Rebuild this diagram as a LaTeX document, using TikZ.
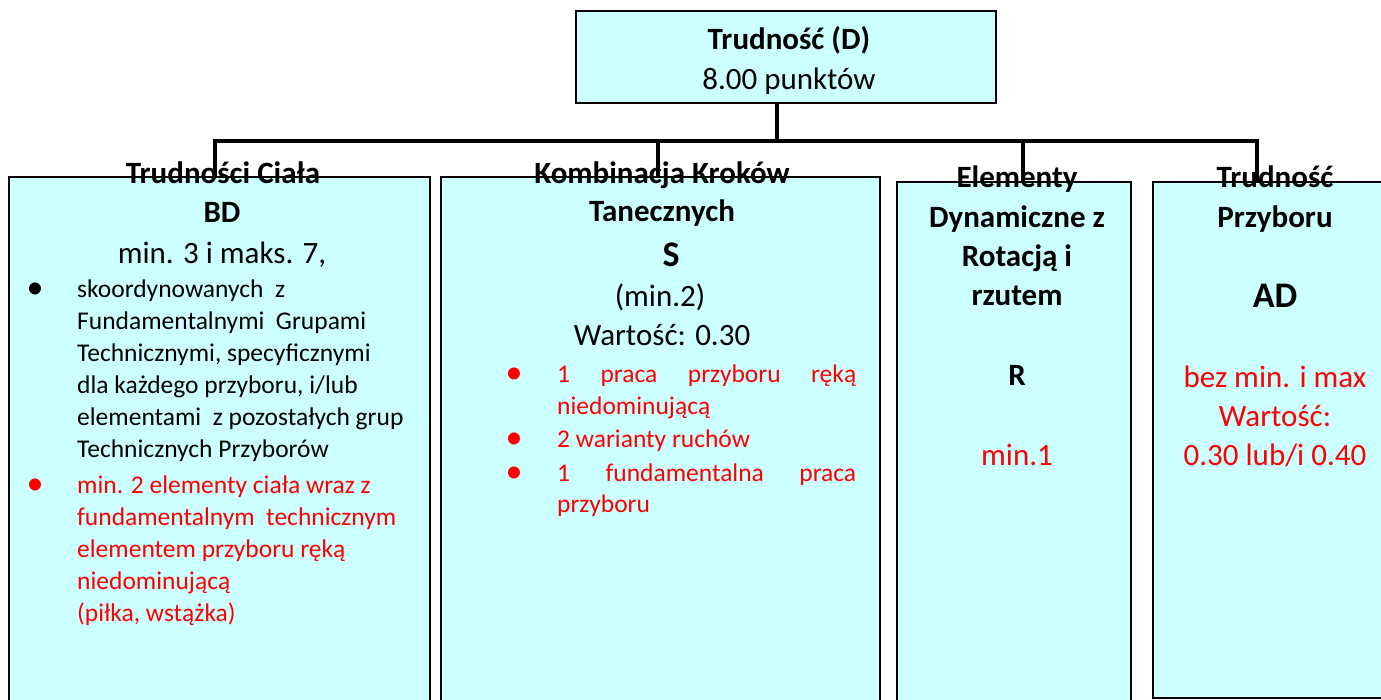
\documentclass[tikz,border=0pt]{standalone}
\usepackage{fontspec}
\setmainfont{Carlito}
\definecolor{boxfill}{HTML}{CCFFFF}
\definecolor{redtext}{HTML}{FF0000}
\begin{document}
\begin{tikzpicture}[x=1pt,y=-1pt,
  box/.style={draw=black, line width=2pt, fill=boxfill, inner sep=0pt, anchor=north west},
  conn/.style={draw=black, line width=4.5pt},
  ttl/.style={anchor=base, inner sep=0pt, font=\fontsize{31}{38}\selectfont\bfseries},
  bigttl/.style={anchor=base, inner sep=0pt, font=\fontsize{36}{40}\selectfont\bfseries},
  big/.style={anchor=base, inner sep=0pt, font=\fontsize{31}{38}\selectfont},
  body/.style={anchor=base west, inner sep=0pt, font=\fontsize{25.5}{32}\selectfont},
  bul/.style={anchor=base, inner sep=0pt, font=\fontsize{34}{32}\selectfont},
  rd/.style={text=redtext}]
\useasboundingbox (0,0) rectangle (1381,699);
% boxes
\node[box, minimum width=420pt, minimum height=92pt] (top) at (575,10) {};
\node[box, minimum width=421pt, minimum height=540pt] (b1) at (8,176) {};
\node[box, minimum width=439pt, minimum height=540pt] (b2) at (440,176) {};
\node[box, minimum width=234pt, minimum height=535pt] (b3) at (896,181) {};
\node[box, minimum width=245pt, minimum height=516pt] (b4) at (1152,181) {};
% connector coordinates
\coordinate (j0) at (777,141);
\coordinate (d1) at (215,141);
\coordinate (d2) at (658,141);
\coordinate (d3) at (1023,141);
\coordinate (d4) at (1257,141);
\draw[conn] (top.south -| j0) -- (j0);
\draw[conn] (d1 |- b1.north) -- (d1) -- (d4) -- (d4 |- b4.north);
\draw[conn] (d2) -- (d2 |- b2.north);
\draw[conn] (d3) -- (d3 |- b3.north);
% top box text
\node[ttl] (t1) at (789,49) {Trudność (D)};
\node[big] (t2) at (789,89) {8.00 punktów};
% box 1
\node[ttl] (a1) at (223,183) {Trudności Ciała};
\node[ttl] (a2) at (222,222) {BD};
\node[big] (a3) at (222,263) {min. 3 i maks. 7,};
\node[bul] (a4) at (35,298) {•};
\node[body] (a5) at (77,297) {skoordynowanych\ \ z};
\node[body] (a6) at (77,329) {Fundamentalnymi\ \ Grupami};
\node[body] (a7) at (77,361) {Technicznymi,\ specyficznymi};
\node[body] (a8) at (77,393) {dla każdego przyboru, i/lub};
\node[body] (a9) at (77,425) {elementami\ \ z pozostałych grup};
\node[body] (a10) at (77,457) {Technicznych Przyborów};
\node[bul,rd] (a11) at (35,494) {•};
\node[body,rd] (a12) at (77,493) {min. 2 elementy ciała wraz z};
\node[body,rd] (a13) at (77,525) {fundamentalnym\ \ technicznym};
\node[body,rd] (a14) at (77,557) {elementem\ przyboru\ ręką};
\node[body,rd] (a15) at (77,589) {niedominującą};
\node[body,rd] (a16) at (77,621) {(piłka, wstążka)};
% box 2
\node[ttl] (c1) at (662,183) {Kombinacja Kroków};
\node[ttl] (c2) at (662,221) {Tanecznych};
\node[bigttl] (c3) at (671,266) {S};
\node[big] (c4) at (660,306) {(min.2)};
\node[big] (c5) at (662,345) {Wartość: 0.30};
\node[bul,rd] (c6) at (514,383) {•};
\node[body,rd] (c7) at (557,382) {\makebox[299pt][s]{1 praca przyboru ręką}};
\node[body,rd] (c8) at (557,414) {niedominującą};
\node[bul,rd] (c9) at (514,448) {•};
\node[body,rd] (c10) at (557,447) {2 warianty ruchów};
\node[bul,rd] (c11) at (514,482) {•};
\node[body,rd] (c12) at (557,481) {\makebox[299pt][s]{1 fundamentalna praca}};
\node[body,rd] (c13) at (557,512) {przyboru};
% box 3
\node[ttl] (e1) at (1017,187) {Elementy};
\node[ttl] (e2) at (1017,227) {Dynamiczne z};
\node[ttl] (e3) at (1017,266) {Rotacją i};
\node[ttl] (e4) at (1017,305) {rzutem};
\node[ttl] (e5) at (1017,385) {R};
\node[big,rd] (e6) at (1017,465) {min.1};
% box 4
\node[ttl] (f1) at (1275,187) {Trudność};
\node[ttl] (f2) at (1275,227) {Przyboru};
\node[bigttl] (f3) at (1275,307) {AD};
\node[big,rd] (f4) at (1275,387) {bez min. i max};
\node[big,rd] (f5) at (1275,426) {Wartość:};
\node[big,rd] (f6) at (1275,465) {0.30 lub/i 0.40};
\end{tikzpicture}
\end{document}
